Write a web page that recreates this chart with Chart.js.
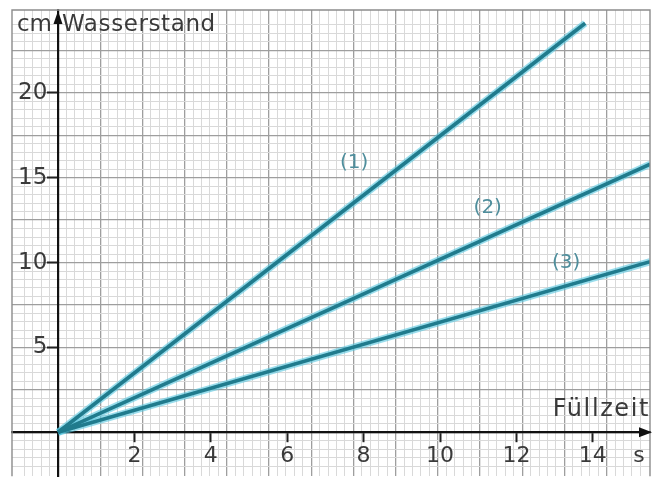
<!DOCTYPE html>
<html>
<head>
<meta charset="utf-8">
<script src="https://cdn.jsdelivr.net/npm/chart.js@4"></script>
<style>
  html, body { margin: 0; padding: 0; background: #ffffff; }
  #c { display: block; }
</style>
</head>
<body>
<canvas id="c" width="654" height="477"></canvas>
<script>
// ---- data ----
const xTickValues = [2, 4, 6, 8, 10, 12, 14];
const yTickValues = [5, 10, 15, 20];
const seriesNames = ['(1)', '(2)', '(3)'];
const series1 = [{x: 0, y: 0}, {x: 13.8, y: 24.1}];
const series2 = [{x: 0, y: 0}, {x: 15.5, y: 15.8}];
const series3 = [{x: 0, y: 0}, {x: 15.5, y: 10.05}];
const seriesLabelAnchors = [{x: 7.75, y: 15.9}, {x: 11.25, y: 13.2}, {x: 13.3, y: 10.0}];
const yAxisTitle = ['cm', 'Wasserstand'];
const xAxisTitle = ['Füllzeit', 's'];

const TEXT = '#3a3a3a';
const FONT = '"DejaVu Sans", sans-serif';
const LINE = '#207b8d';
const HALO = 'rgba(85,198,224,0.6)';

function minorMajor(ctx, minor, major, edge) {
  const v = ctx.tick ? ctx.tick.value : 0;
  if (Math.abs(v - Math.round(v)) > 1e-6) return edge;
  return Math.round(v) % 5 === 0 ? major : minor;
}

const sets = [series1, series2, series3];
const datasets = [];
sets.forEach((d, i) => {
  datasets.push({data: d, borderColor: HALO, borderWidth: 7, pointRadius: 0, xAxisID: 'x', yAxisID: 'y', order: 2, label: seriesNames[i] + ' halo'});
});
sets.forEach((d, i) => {
  datasets.push({data: d, borderColor: LINE, borderWidth: 3.6, pointRadius: 0, xAxisID: 'x', yAxisID: 'y', order: 1, label: seriesNames[i]});
});

const decor = {
  id: 'decor',
  afterDraw(chart) {
    const {ctx, chartArea} = chart;
    const xs = chart.scales.x, ys = chart.scales.y;
    const ox = xs.getPixelForValue(0), oy = ys.getPixelForValue(0);
    ctx.save();
    // paper edge
    ctx.strokeStyle = '#8c8c8c';
    ctx.lineWidth = 1.4;
    ctx.beginPath();
    ctx.moveTo(chartArea.left, chartArea.bottom);
    ctx.lineTo(chartArea.left, chartArea.top);
    ctx.lineTo(chartArea.right, chartArea.top);
    ctx.lineTo(chartArea.right, chartArea.bottom);
    ctx.stroke();
    // arrowheads
    ctx.fillStyle = '#111';
    ctx.beginPath();
    ctx.moveTo(ox, chartArea.top + 1);
    ctx.lineTo(ox - 4.5, chartArea.top + 14);
    ctx.lineTo(ox + 4.5, chartArea.top + 14);
    ctx.closePath();
    ctx.fill();
    ctx.beginPath();
    ctx.moveTo(chartArea.right + 2, oy);
    ctx.lineTo(chartArea.right - 11, oy - 5);
    ctx.lineTo(chartArea.right - 11, oy + 5);
    ctx.closePath();
    ctx.fill();
    // axis titles
    ctx.fillStyle = TEXT;
    ctx.font = '23px ' + FONT;
    ctx.textBaseline = 'middle';
    ctx.textAlign = 'right';
    ctx.fillText(yAxisTitle[0], ox - 6, chartArea.top + 15);
    ctx.textAlign = 'left';
    if ('letterSpacing' in ctx) ctx.letterSpacing = '0.6px';
    ctx.fillText(yAxisTitle[1], ox + 4, chartArea.top + 15);
    ctx.textAlign = 'right';
    ctx.font = '24px ' + FONT;
    if ('letterSpacing' in ctx) ctx.letterSpacing = '1.6px';
    ctx.fillText(xAxisTitle[0], chartArea.right, oy - 23);
    if ('letterSpacing' in ctx) ctx.letterSpacing = '0px';
    ctx.textAlign = 'center';
    ctx.font = '22px ' + FONT;
    ctx.fillText(xAxisTitle[1], chartArea.right - 11, oy + 24);
    // series labels
    ctx.fillStyle = '#4f8e9c';
    ctx.font = '20px ' + FONT;
    seriesNames.forEach((n, i) => {
      const a = seriesLabelAnchors[i];
      ctx.fillText(n, xs.getPixelForValue(a.x), ys.getPixelForValue(a.y));
    });
    ctx.restore();
  }
};

new Chart(document.getElementById('c'), {
  type: 'line',
  data: {datasets},
  plugins: [decor],
  options: {
    responsive: false,
    animation: false,
    devicePixelRatio: 1,
    layout: {padding: {left: 12, top: 10, right: 4, bottom: 0}},
    plugins: {legend: {display: false}, tooltip: {enabled: false}},
    scales: {
      gx: {
        type: 'linear', axis: 'x', position: 'bottom',
        min: -5.45, max: 70.14,
        ticks: {display: false, stepSize: 1},
        grid: {
          drawTicks: false,
          color: c => minorMajor(c, '#d9d9d9', '#9e9e9e', 'rgba(0,0,0,0)'),
          lineWidth: c => minorMajor(c, 1, 1.3, 0)
        },
        border: {display: false}
      },
      gy: {
        type: 'linear', axis: 'y', position: 'left',
        min: -5.18, max: 49.76,
        ticks: {display: false, stepSize: 1},
        grid: {
          drawTicks: false,
          color: c => minorMajor(c, '#d9d9d9', '#9e9e9e', 'rgba(0,0,0,0)'),
          lineWidth: c => minorMajor(c, 1, 1.3, 0)
        },
        border: {display: false}
      },
      x: {
        type: 'linear', position: {y: 0},
        min: -1.204, max: 15.497,
        afterBuildTicks: s => { s.ticks = xTickValues.map(v => ({value: v})); },
        ticks: {font: {family: FONT, size: 22}, color: TEXT, padding: 2, maxRotation: 0, autoSkip: false},
        grid: {drawOnChartArea: false, drawTicks: true, tickLength: 9, tickWidth: 2, tickColor: '#222'},
        border: {display: true, color: '#111', width: 2.2}
      },
      y: {
        type: 'linear', position: {x: 0},
        min: -2.588, max: 24.882,
        afterBuildTicks: s => { s.ticks = yTickValues.map(v => ({value: v})); },
        ticks: {display: false},
        grid: {drawOnChartArea: false, drawTicks: true, tickLength: 10, tickWidth: 2, tickColor: '#222'},
        border: {display: true, color: '#111', width: 2.2}
      },
      yl: {
        type: 'linear', axis: 'y', position: {x: -0.28},
        min: -2.588, max: 24.882,
        afterBuildTicks: s => { s.ticks = yTickValues.map(v => ({value: v})); },
        ticks: {font: {family: FONT, size: 23}, color: TEXT, padding: -13, autoSkip: false},
        grid: {display: false},
        border: {display: false}
      }
    }
  }
});
</script>
</body>
</html>
